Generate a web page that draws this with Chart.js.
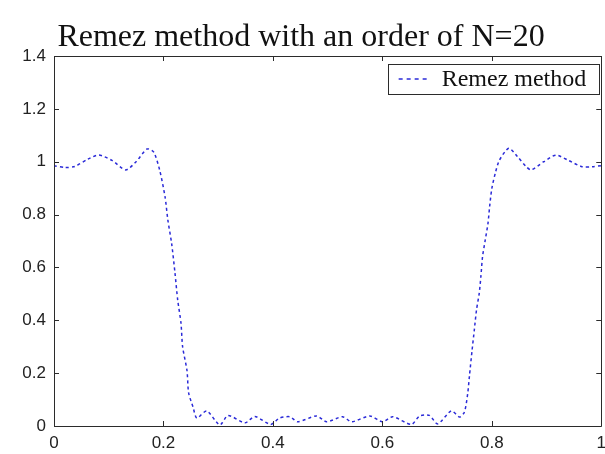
<!DOCTYPE html>
<html>
<head>
<meta charset="utf-8">
<script src="https://cdn.jsdelivr.net/npm/chart.js@4"></script>
<style>
  html, body { margin: 0; padding: 0; background: #ffffff; }
  #wrap { width: 605px; height: 454px; }
</style>
</head>
<body>
<div id="wrap"><canvas id="c" width="605" height="454"></canvas></div>
<script>
// Normalized frequency samples
const freq = [
  0, 0.02, 0.038, 0.062, 0.082, 0.106, 0.131, 0.15, 0.17, 0.182,
  0.193, 0.203, 0.208, 0.215, 0.221, 0.226, 0.232, 0.235, 0.243, 0.246,
  0.254, 0.261, 0.279, 0.303, 0.318, 0.349, 0.367, 0.396, 0.412, 0.431,
  0.445, 0.48, 0.498, 0.527, 0.544, 0.577, 0.6, 0.619, 0.653, 0.668,
  0.686, 0.701, 0.726, 0.741, 0.75, 0.756, 0.759, 0.764, 0.768, 0.772,
  0.777, 0.78, 0.783, 0.788, 0.793, 0.796, 0.8, 0.807, 0.814, 0.831,
  0.847, 0.863, 0.872, 0.895, 0.917, 0.94, 0.965, 0.984, 1.0
];
// Magnitude response of the Remez design
const magnitude = [
  0.985, 0.978, 0.982, 1.01, 1.025, 1.005, 0.969, 1.0, 1.048, 1.037,
  0.969, 0.866, 0.78, 0.69, 0.58, 0.477, 0.39, 0.30, 0.21, 0.125,
  0.072, 0.03, 0.057, 0.004, 0.04, 0.012, 0.036, 0.006, 0.03, 0.035,
  0.016, 0.038, 0.016, 0.035, 0.016, 0.038, 0.016, 0.035, 0.006, 0.038,
  0.04, 0.008, 0.057, 0.034, 0.053, 0.124, 0.187, 0.288, 0.363, 0.439,
  0.502, 0.565, 0.64, 0.704, 0.767, 0.83, 0.899, 0.962, 1.006, 1.051,
  1.019, 0.981, 0.969, 1.0, 1.025, 1.005, 0.981, 0.981, 0.985
];
const xTicks = [0, 0.2, 0.4, 0.6, 0.8, 1];
const yTicks = [0, 0.2, 0.4, 0.6, 0.8, 1, 1.2, 1.4];
const seriesLabel = 'Remez method';
const titleText = 'Remez method with an order of N=20';

const lineColor = '#2a2ad8';
const frameColor = '#2b2b2b';

// Box around the axes with inward ticks on all four sides
const framePlugin = {
  id: 'frame',
  afterDraw(chart) {
    const { ctx, chartArea: a, scales } = chart;
    const len = 5;
    ctx.save();
    ctx.strokeStyle = frameColor;
    ctx.lineWidth = 1;
    ctx.beginPath();
    ctx.rect(Math.round(a.left) + 0.5, Math.round(a.top) + 0.5,
             Math.round(a.right - a.left), Math.round(a.bottom - a.top));
    ctx.stroke();
    ctx.beginPath();
    xTicks.forEach(v => {
      const px = Math.round(scales.x.getPixelForValue(v)) + 0.5;
      ctx.moveTo(px, a.bottom); ctx.lineTo(px, a.bottom - len);
      ctx.moveTo(px, a.top); ctx.lineTo(px, a.top + len);
    });
    yTicks.forEach(v => {
      const py = Math.round(scales.y.getPixelForValue(v)) + 0.5;
      ctx.moveTo(a.left, py); ctx.lineTo(a.left + len, py);
      ctx.moveTo(a.right, py); ctx.lineTo(a.right - len, py);
    });
    ctx.stroke();
    ctx.restore();
  }
};

// Legend box in the upper right corner of the axes
const boxLegendPlugin = {
  id: 'boxLegend',
  afterDraw(chart) {
    const { ctx, chartArea: a } = chart;
    const ds = chart.data.datasets[0];
    ctx.save();
    ctx.font = '24px "Liberation Serif", "Times New Roman", serif';
    const tw = ctx.measureText(ds.label).width;
    const right = a.right - 3;
    const top = a.top + 8;
    const h = 30;
    const sampleLen = 32;
    const w = 11 + sampleLen + 11 + tw + 12;
    const left = right - w;
    ctx.fillStyle = '#ffffff';
    ctx.fillRect(left, top, w, h);
    ctx.strokeStyle = frameColor;
    ctx.lineWidth = 1;
    ctx.strokeRect(Math.round(left) + 0.5, top + 0.5, Math.round(w), h);
    const cy = top + h / 2;
    ctx.strokeStyle = ds.borderColor;
    ctx.lineWidth = ds.borderWidth;
    ctx.setLineDash([4, 4]);
    ctx.beginPath();
    ctx.moveTo(left + 11, cy);
    ctx.lineTo(left + 11 + sampleLen, cy);
    ctx.stroke();
    ctx.setLineDash([]);
    ctx.fillStyle = '#111111';
    ctx.textBaseline = 'middle';
    ctx.textAlign = 'left';
    ctx.fillText(ds.label, left + 11 + sampleLen + 11, cy + 1);
    ctx.restore();
  }
};

const tickFont = { family: '"Liberation Sans", Arial, sans-serif', size: 17 };

new Chart(document.getElementById('c'), {
  type: 'line',
  data: {
    datasets: [{
      label: seriesLabel,
      data: freq.map((f, i) => ({ x: f, y: magnitude[i] })),
      borderColor: lineColor,
      borderWidth: 1.5,
      borderDash: [3, 3],
      pointRadius: 0,
      tension: 0.25,
      fill: false
    }]
  },
  options: {
    responsive: false,
    animation: false,
    events: [],
    layout: { padding: { left: 0, right: 3, top: 0, bottom: 0 } },
    plugins: {
      legend: { display: false },
      tooltip: { enabled: false },
      title: {
        display: true,
        text: titleText,
        color: '#111111',
        font: { family: '"Liberation Serif", "Times New Roman", serif', size: 32, weight: 'normal', lineHeight: 1.0 },
        padding: { top: 22, bottom: 2 }
      }
    },
    scales: {
      x: {
        type: 'linear',
        min: 0, max: 1,
        afterBuildTicks(scale) { scale.ticks = xTicks.map(v => ({ value: v })); },
        afterFit(scale) { scale.height = 28; },
        grid: { display: false },
        border: { display: false },
        ticks: {
          color: '#222222',
          font: tickFont,
          padding: -1,
          maxRotation: 0,
          callback: v => String(+v.toFixed(1))
        }
      },
      y: {
        type: 'linear',
        min: 0, max: 1.4,
        afterBuildTicks(scale) { scale.ticks = yTicks.map(v => ({ value: v })); },
        afterFit(scale) { scale.width = 54; },
        grid: { display: false },
        border: { display: false },
        ticks: {
          color: '#222222',
          font: tickFont,
          padding: 0,
          callback: v => String(+v.toFixed(1))
        }
      }
    }
  },
  plugins: [framePlugin, boxLegendPlugin]
});
</script>
</body>
</html>
